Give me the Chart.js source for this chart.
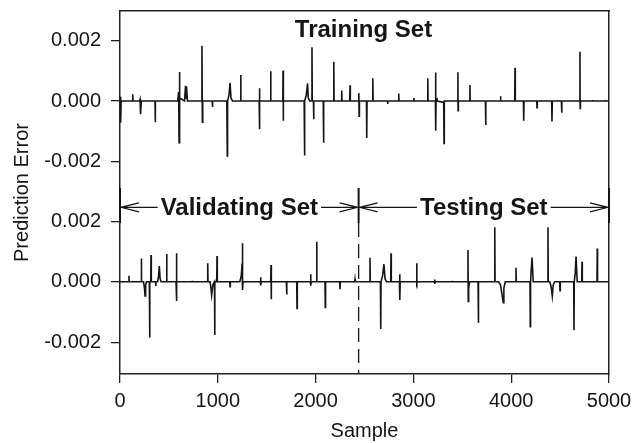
<!DOCTYPE html>
<html>
<head>
<meta charset="utf-8">
<script src="https://cdn.jsdelivr.net/npm/chart.js@4.4.0/dist/chart.umd.min.js"></script>
<style>
  html, body { margin: 0; padding: 0; background: #fff; }
  #c { display: block; }
</style>
</head>
<body>
<canvas id="c" width="642" height="443"></canvas>
<script>
// 训练集误差 (上图)
const trainSample = [
  0, 5, 8, 12, 128, 130, 133, 200, 205, 210, 218, 358, 360, 363,
  590, 600, 604, 607, 612, 660, 670, 675, 680, 690,
  835, 838, 842, 846, 943, 945, 948,
  1092, 1097, 1100, 1115, 1125, 1135, 1150,
  1232, 1234, 1237, 1423, 1425, 1427, 1430, 1539, 1541, 1543,
  1665, 1667, 1669, 1672,
  1883, 1886, 1890, 1905, 1918, 1925, 1940,
  1960, 1963, 1966, 1978, 1980, 1983,
  2078, 2081, 2084, 2183, 2186, 2189, 2264, 2267, 2270, 2349, 2352, 2355,
  2440, 2442, 2445, 2448, 2520, 2523, 2526, 2582, 2585, 2588,
  2735, 2737, 2740, 2847, 2850, 2853, 3003, 3005, 3008,
  3144, 3147, 3150, 3225, 3227, 3229, 3232, 3240, 3245,
  3310, 3313, 3316, 3452, 3455, 3457, 3460, 3575, 3578, 3581, 3736, 3739, 3742,
  3889, 3891, 3894, 4036, 4039, 4042, 4125, 4128, 4131, 4261, 4264, 4267,
  4414, 4417, 4420, 4513, 4516, 4519, 4700, 4703, 4705, 4708,
  4828, 4830, 4832, 4960, 4962, 4964, 5000
];
const trainError = [
  0, 0.00014, -0.00072, 0, 0, 0.00022, 0, 0, 0.00005, -0.00044, 0, 0, -0.0007, 0,
  0, 0.0003, -0.00138, 0.00096, 0.0001, 0, 0.0005, 0.0001, 0.00048, 0,
  0, 0.00183, -0.0007, 0, 0, -0.0002, 0,
  0, -0.00182, 0, 0.0002, 0.0006, 0.0001, 0,
  0, 0.00086, 0, 0, 0.00042, -0.00093, 0, 0, 0.00098, 0,
  0, 0.00101, -0.00065, 0,
  0, -0.0018, 0, 0.0002, 0.00058, 0.0001, 0,
  0, 0.00178, 0, 0, -0.0006, 0,
  0, -0.00138, 0, 0, 0.0013, 0, 0, 0.00035, 0, 0, 0.00052, 0,
  0, 0.00026, -0.0005, 0, 0, -0.00122, 0, 0, 0.00075, 0,
  0, -0.0001, 0, 0, 0.00025, 0, 0, 0.0001, 0,
  0, 0.00075, 0, 0, 0.00094, -0.00098, 0, 0.0001, 0,
  -0.00005, -0.0014, 0, 0, 0.00095, -0.00032, 0, 0, 0.00053, 0, 0, -0.00079, 0,
  0, 0.00016, 0, 0, 0.0011, 0, 0, -0.00065, 0, 0, -0.00022, 0,
  0, -0.00068, 0, 0, -0.00039, 0, 0, 0.00163, -0.00025, 0,
  0, 0.00003, 0, 0, 0.00003, 0, 0
];

// 验证集误差 (下图左)
const valSample = [
  0, 90, 92, 94, 216, 218, 221, 240, 250, 256, 262, 270,
  300, 303, 306, 314, 317, 320, 362, 365, 368, 385, 395, 402, 410, 420,
  474, 477, 480, 573, 576, 579, 582, 737, 739, 741, 894, 897, 900,
  920, 930, 937, 950, 966, 968, 971, 989, 992, 995,
  1122, 1125, 1128, 1225, 1240, 1248, 1252, 1254, 1258,
  1436, 1438, 1440, 1443, 1541, 1544, 1546, 1549, 1701, 1704, 1707,
  1807, 1810, 1813, 1947, 1950, 1952, 1955, 2008, 2011, 2014,
  2096, 2099, 2102, 2246, 2249, 2252, 2400, 2403, 2406, 2440
];
const valError = [
  0, 0, 0.0002, 0, 0, 0.00077, 0, 0, -0.0002, -0.00047, -0.0001, 0,
  0, -0.00184, 0, 0, 0.00088, 0, 0, -0.00014, 0, 0, 0.0002, 0.00052, 0.0001, 0,
  0, 0.00092, 0, 0, 0.00094, -0.00064, 0, 0, 0.00003, 0, 0, 0.00061, 0,
  0, -0.0002, -0.00044, -0.0001, 0, -0.00176, 0, 0, 0.00085, 0,
  0, -0.00016, 0, 0, 0.0002, 0.0006, 0.00127, -0.00027, 0,
  0, 0.00015, -0.00012, 0, 0, 0.00055, -0.00058, 0, 0, -0.00042, 0,
  0, -0.00088, 0, 0, 0.00025, -0.00013, 0, 0, 0.00132, 0,
  0, -0.00085, 0, 0, -0.00025, 0, 0, 0.00008, 0, 0
];

// 测试集误差 (下图右)
const testSample = [
  2440, 2553, 2556, 2559, 2663, 2666, 2669, 2685, 2699, 2710, 2725,
  2768, 2771, 2774, 2857, 2860, 2862, 2865, 3031, 3034, 3036, 3039,
  3214, 3217, 3219, 3222, 3396, 3398, 3400, 3555, 3558, 3561, 3565, 3575,
  3661, 3664, 3667, 3829, 3832, 3835, 3870, 3890, 3905, 3919, 3925, 3940,
  4046, 4049, 4052, 4192, 4195, 4198, 4205, 4213, 4225,
  4373, 4376, 4379, 4395, 4410, 4420, 4430, 4445, 4496, 4499, 4502,
  4639, 4642, 4645, 4655, 4663, 4675, 4721, 4724, 4727, 4877, 4880, 4883, 5000
];
const testError = [
  0, 0, 0.00079, 0, 0, -0.00156, 0, 0.0002, 0.00058, 0.0001, 0,
  0, 0.00094, 0, 0, 0.00025, -0.0006, 0, 0, 0.00061, -0.00005, 0,
  0, 0.00007, -0.00007, 0, 0, 0.00003, 0, 0, 0.00105, -0.00065, -0.0002, 0,
  0, -0.00136, 0, 0, 0.0018, 0, 0, -0.0001, -0.0004, -0.00069, -0.0002, 0,
  0, 0.00046, 0, 0, -0.00149, 0, 0.0004, 0.0008, 0,
  0, 0.0018, 0, 0, -0.0002, -0.00047, -0.0001, 0, 0, -0.0003, 0,
  0, -0.0016, 0, 0.0003, 0.00083, 0, 0, 0.00066, 0, 0, 0.0011, 0, 0
];

const yTicks = [-0.002, 0, 0.002];
const splitAt = 2440; // 验证集/测试集分界

const FONT = '"Liberation Sans", Arial, Helvetica, sans-serif';
const INK = '#151515';
Chart.defaults.font.family = FONT;
Chart.defaults.color = INK;

function pts(xs, ys) { return xs.map((x, i) => ({ x, y: ys[i] })); }

const lineStyle = { borderColor: INK, borderWidth: 1.6, pointRadius: 0, tension: 0, fill: false };

function noPad(s) { s.paddingTop = 0; s.paddingBottom = 0; }

function yAxis(min, max) {
  return {
    type: 'linear', position: 'left', stack: 'err', stackWeight: 1,
    min, max,
    afterBuildTicks: s => { s.ticks = yTicks.map(v => ({ value: v })); },
    afterFit: s => { s.width = 120; noPad(s); },
    ticks: { font: { size: 20 }, padding: 10, callback: v => v.toFixed(3) },
    grid: { drawOnChartArea: false, tickLength: 9, color: '#222', lineWidth: 1.3 },
    border: { color: '#222', width: 1.5 }
  };
}

// 标注：文字、箭头、分隔线
const annot = {
  id: 'annot',
  afterDraw(chart) {
    const { ctx, chartArea: a, scales: { x, yT, yB } } = chart;
    ctx.save();
    ctx.strokeStyle = INK;
    ctx.fillStyle = INK;
    ctx.font = 'bold 24px ' + FONT;
    ctx.textAlign = 'center';
    ctx.textBaseline = 'middle';
    ctx.fillText('Training Set', x.getPixelForValue(2490), yT.getPixelForValue(0.00232));

    // y 轴标题
    ctx.font = '20px ' + FONT;
    ctx.translate(22.5, (a.top + a.bottom) / 2);
    ctx.rotate(-Math.PI / 2);
    ctx.fillText('Prediction Error', 0, 0);
    ctx.setTransform(1, 0, 0, 1, 0, 0);

    const xs = [0, splitAt, 5000].map(v => x.getPixelForValue(v));
    const row = yB.getPixelForValue(0.00246);
    const barTop = yB.getPixelForValue(0.0031);
    const barBot = yB.getPixelForValue(0.00194);

    ctx.lineWidth = 2;
    for (const px of xs) {
      ctx.beginPath(); ctx.moveTo(px, barTop); ctx.lineTo(px, barBot); ctx.stroke();
    }
    ctx.lineWidth = 1.3;
    ctx.setLineDash([14, 7]);
    ctx.beginPath(); ctx.moveTo(xs[1], barBot); ctx.lineTo(xs[1], a.bottom); ctx.stroke();
    ctx.setLineDash([]);

    ctx.font = 'bold 24px ' + FONT;
    const labels = ['Validating Set', 'Testing Set'];
    labels.forEach((t, i) => {
      const l = xs[i], r = xs[i + 1], cx = (l + r) / 2;
      const w = ctx.measureText(t).width;
      ctx.fillText(t, cx, row + 1);
      ctx.lineWidth = 1.2;
      ctx.beginPath();
      ctx.moveTo(l + 1, row); ctx.lineTo(cx - w / 2 - 3, row);
      ctx.moveTo(cx + w / 2 + 3, row); ctx.lineTo(r - 1, row);
      // 开口箭头
      ctx.moveTo(l + 19, row - 4.5); ctx.lineTo(l + 1, row); ctx.lineTo(l + 19, row + 4.5);
      ctx.moveTo(r - 19, row - 4.5); ctx.lineTo(r - 1, row); ctx.lineTo(r - 19, row + 4.5);
      ctx.stroke();
    });
    ctx.restore();
  }
};

new Chart(document.getElementById('c').getContext('2d'), {
  type: 'line',
  data: {
    datasets: [
      { data: pts(trainSample, trainError), yAxisID: 'yT', ...lineStyle },
      { data: pts(valSample, valError), yAxisID: 'yB', ...lineStyle },
      { data: pts(testSample, testError), yAxisID: 'yB', ...lineStyle }
    ]
  },
  options: {
    responsive: false,
    animation: false,
    layout: { padding: { top: 11, right: 33, left: 0, bottom: 0 } },
    plugins: { legend: { display: false }, tooltip: { enabled: false } },
    scales: {
      x: {
        type: 'linear', position: 'bottom', min: 0, max: 5000,
        afterFit: s => { s.height = 69; },
        ticks: { stepSize: 1000, font: { size: 20 }, padding: 6, maxRotation: 0, callback: v => String(v) },
        grid: { drawOnChartArea: false, tickLength: 9, color: '#222', lineWidth: 1.3 },
        border: { color: '#222', width: 1.5 },
        title: { display: true, text: 'Sample', font: { size: 20 }, padding: 0 }
      },
      xTop: {
        type: 'linear', position: 'top', min: 0, max: 5000,
        afterFit: s => { s.height = 0; },
        ticks: { display: false }, grid: { display: false },
        border: { color: '#222', width: 1.5 }
      },
      yB: yAxis(-0.00305, 0.00295),
      yT: yAxis(-0.003025, 0.002975),
      yR: {
        type: 'linear', position: 'right', min: 0, max: 1,
        afterFit: s => { s.width = 0; noPad(s); },
        ticks: { display: false }, grid: { display: false },
        border: { color: '#222', width: 1.5 }
      }
    }
  },
  plugins: [annot]
});
</script>
</body>
</html>
